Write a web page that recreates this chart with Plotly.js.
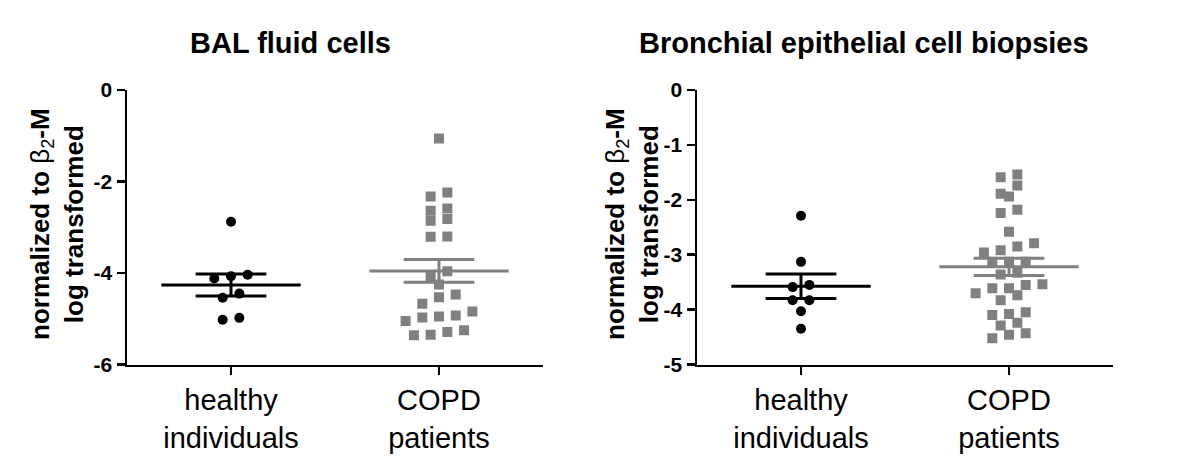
<!DOCTYPE html>
<html>
<head>
<meta charset="utf-8">
<script src="https://cdn.plot.ly/plotly-3.0.1.min.js"></script>
<style>html,body{margin:0;padding:0;background:#fff;}#chart{width:1200px;height:466px;}</style>
</head>
<body>
<div id="chart"></div>
<script>
// ---- data ----
const categories = ['healthy<br>individuals', 'COPD<br>patients'];
const panelTitles = ['BAL fluid cells', 'Bronchial epithelial cell biopsies'];
const yLabel = '<b>normalized to </b>β<sub>2</sub><b>-M</b><br><b>log transformed</b>';
const leftYTicks = [0, -2, -4, -6];
const rightYTicks = [0, -1, -2, -3, -4, -5];

const balHealthy = [-2.88, -4.04, -4.12, -4.07, -4.45, -4.54, -5.02, -4.98];
const balCOPD = [-1.06, -2.33, -2.24, -2.64, -2.86, -2.82, -2.59, -3.21, -3.20, -3.96, -4.07, -4.25,
                 -4.53, -4.47, -4.67, -4.84, -5.05, -4.95, -4.97, -4.93, -5.29, -5.36, -5.35, -5.25];
const bronchHealthy = [-2.29, -3.13, -3.59, -3.55, -3.83, -3.83, -4.03, -4.35];
const bronchCOPD = [-1.54, -1.59, -1.74, -1.94, -1.89, -2.24, -2.18, -2.58, -2.85, -2.79, -2.96, -2.92,
                    -3.13, -3.13, -3.13, -3.33, -3.36, -3.55, -3.61, -3.54, -3.61, -3.70, -3.74, -3.83,
                    -4.08, -4.10, -4.05, -4.24, -4.29, -4.43, -4.52, -4.46];

// ---- layout geometry ----
const W = 1200, H = 466;
const FONT = 'Liberation Sans, Arial, Helvetica, sans-serif';
const xDomL = [127 / W, 543 / W], xDomR = [697 / W, 1113 / W];
const yDom = [1 - 364.5 / H, 1 - 90 / H];
const xRange = [-0.5, 1.5];
const MARK = 10;
const BLACK = '#000000', GREY = '#808080';

function pxPerX(dom) { return (dom[1] - dom[0]) * W / (xRange[1] - xRange[0]); }
function pxPerY(range) { return (yDom[1] - yDom[0]) * H / (range[1] - range[0]); }

// simple row-based beeswarm computed from the values
function swarm(values, center, ppx, ppy) {
  const idx = values.map((v, i) => i).sort((a, b) => values[b] - values[a]);
  const xs = new Array(values.length);
  let row = [], start = null;
  const flush = () => {
    const n = row.length;
    row.slice().sort((a, b) => values[a] - values[b]).forEach((i, k) => {
      xs[i] = center + (k - (n - 1) / 2) * (MARK * 1.67) / ppx;
    });
    row = [];
  };
  idx.forEach(i => {
    if (start === null || (start - values[i]) * ppy >= MARK) { flush(); start = values[i]; }
    row.push(i);
  });
  flush();
  return xs;
}
function meanSem(v) {
  const n = v.length, m = v.reduce((a, b) => a + b, 0) / n;
  const sd = Math.sqrt(v.reduce((a, b) => a + (b - m) * (b - m), 0) / (n - 1));
  return [m, sd / Math.sqrt(n)];
}

const traces = [];
function addGroup(values, center, xa, ya, dom, yr, symbol, color) {
  const xs = swarm(values, center, pxPerX(dom), pxPerY(yr));
  traces.push({type: 'scatter', mode: 'markers', x: xs, y: values, xaxis: xa, yaxis: ya,
    marker: {symbol: symbol, size: MARK, color: color, line: {width: 0}}, hoverinfo: 'skip', showlegend: false});
  const [m, s] = meanSem(values);
  const hw = 0.335, sw = 0.17;
  traces.push({type: 'scatter', mode: 'lines', xaxis: xa, yaxis: ya, hoverinfo: 'skip', showlegend: false,
    x: [center - hw, center + hw, null, center - sw, center + sw, null, center - sw, center + sw, null, center, center],
    y: [m, m, null, m + s, m + s, null, m - s, m - s, null, m + s, m - s],
    line: {color: color, width: 3}});
}
const rangeL = [-6, 0], rangeR = [-5, 0];
addGroup(balHealthy, 0, 'x', 'y', xDomL, rangeL, 'circle', BLACK);
addGroup(balCOPD, 1, 'x', 'y', xDomL, rangeL, 'square', GREY);
addGroup(bronchHealthy, 0, 'x2', 'y2', xDomR, rangeR, 'circle', BLACK);
addGroup(bronchCOPD, 1, 'x2', 'y2', xDomR, rangeR, 'square', GREY);

function xAxis(dom, anchor) {
  return {domain: dom, anchor: anchor, range: xRange, tickvals: [0, 1], ticktext: categories,
    showgrid: false, zeroline: false, showline: true, linecolor: BLACK, linewidth: 2.5,
    ticks: 'outside', ticklen: 8, tickwidth: 2.5, tickcolor: BLACK,
    tickfont: {family: FONT, size: 29, color: BLACK}, fixedrange: true};
}
function yAxis(range, ticks, anchor) {
  return {domain: yDom, anchor: anchor, range: range, tickvals: ticks, ticktext: ticks.map(String),
    showgrid: false, zeroline: false, showline: true, linecolor: BLACK, linewidth: 2.5,
    ticks: 'outside', ticklen: 8, tickwidth: 2.5, tickcolor: BLACK,
    tickfont: {family: FONT, size: 21, color: BLACK, weight: 'bold'}, fixedrange: true};
}

const ann = [];
function title(text, cx) {
  ann.push({text: '<b>' + text + '</b>', xref: 'paper', yref: 'paper', x: cx / W, y: 1 - 43 / H,
    xanchor: 'center', yanchor: 'middle', showarrow: false, font: {family: FONT, size: 29, color: BLACK}});
}
function ylab(cx) {
  ann.push({text: yLabel, xref: 'paper', yref: 'paper', x: cx / W, y: 1 - 224 / H, textangle: -90,
    xanchor: 'center', yanchor: 'middle', showarrow: false, align: 'center',
    font: {family: FONT, size: 26, color: BLACK}});
}
title(panelTitles[0], 290);
title(panelTitles[1], 864);
ylab(57);
ylab(632);

const layout = {
  width: W, height: H, margin: {l: 0, r: 0, t: 0, b: 0},
  paper_bgcolor: '#ffffff', plot_bgcolor: '#ffffff',
  font: {family: FONT, color: BLACK},
  showlegend: false,
  xaxis: xAxis(xDomL, 'y'), yaxis: yAxis(rangeL, leftYTicks, 'x'),
  xaxis2: xAxis(xDomR, 'y2'), yaxis2: yAxis(rangeR, rightYTicks, 'x2'),
  annotations: ann
};
Plotly.newPlot('chart', traces, layout, {staticPlot: true, displayModeBar: false});
</script>
</body>
</html>
